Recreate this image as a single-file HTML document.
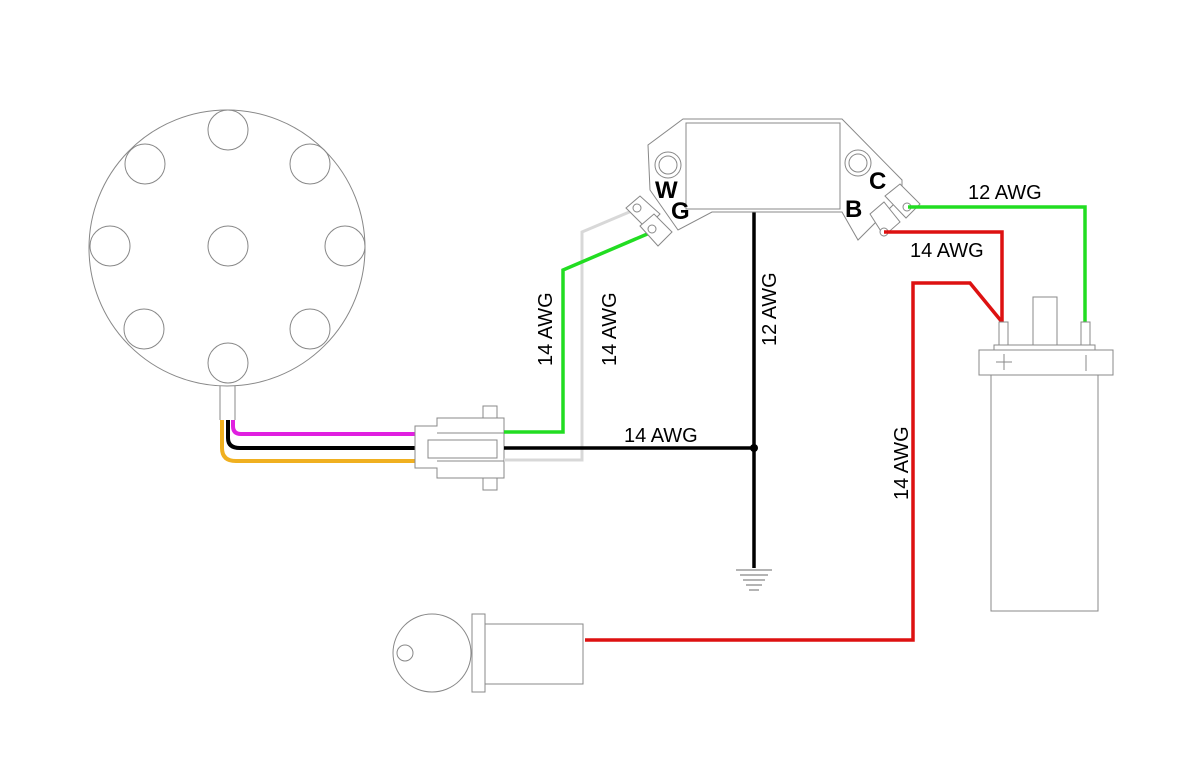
<!DOCTYPE html>
<html><head><meta charset="utf-8"><style>html,body{margin:0;padding:0;background:#fff;}svg{display:block}</style></head>
<body>
<svg width="1200" height="776" viewBox="0 0 1200 776" xmlns="http://www.w3.org/2000/svg" font-family="Liberation Sans, sans-serif">
<rect width="1200" height="776" fill="#fff"/>
<!-- distributor -->
<g fill="none" stroke="#888" stroke-width="1">
<circle cx="227" cy="248" r="138"/>
<circle cx="228" cy="130" r="20"/><circle cx="310" cy="164" r="20"/><circle cx="345" cy="246" r="20"/>
<circle cx="310" cy="329" r="20"/><circle cx="228" cy="363" r="20"/><circle cx="144" cy="329" r="20"/>
<circle cx="110" cy="246" r="20"/><circle cx="145" cy="164" r="20"/><circle cx="228" cy="246" r="20"/>
<path d="M220 386 V420 M235 386 V420"/>
</g>
<!-- harness wires -->
<g fill="none" stroke-width="4">
<path d="M233 420 V426 Q233 434 241 434 H416" stroke="#e020e0"/>
<path d="M228 420 V438 Q228 448 240 448 H416" stroke="#000"/>
<path d="M222 420 V448 Q222 461 236 461 H416" stroke="#f0b020"/>
</g>
<!-- connector -->
<g fill="#fff" stroke="#888" stroke-width="1">
<rect x="483" y="406" width="14" height="12"/><rect x="483" y="478" width="14" height="12"/>
<path d="M415 426 H437 V418 H504 V478 H437 V468 H415 Z"/>
<path d="M437 433 H504 M437 461 H504"/>
<rect x="428" y="440" width="69" height="18"/>
</g>
<!-- wires from connector -->
<g fill="none" stroke-width="3.5">
<path d="M504 460 H582 V232 L634 210" stroke="#d8d8d8" stroke-width="3"/>
<path d="M504 432 H563 V270 L652 232" stroke="#22dd22"/>
<path d="M504 448 H754" stroke="#000"/>
<path d="M668 165 H754 V568" stroke="#000"/>
</g>
<circle cx="754" cy="448" r="4" fill="#000"/>
<g stroke="#888" stroke-width="1.2"><path d="M736 570 H772 M740 575 H768 M743 580 H765 M746 585 H762 M749 590 H759"/></g>
<!-- module -->
<g fill="#fff" stroke="#888" stroke-width="1">
<path d="M683 119 H842 L902 180 V196 L858 240 L842 212 H712 L678 230 L650 190 L648 145 Z"/>
<rect x="686" y="123" width="154" height="86" fill="none"/>
<circle cx="668" cy="165" r="13"/><circle cx="668" cy="165" r="9"/>
<circle cx="858" cy="163" r="13"/><circle cx="858" cy="163" r="9"/>
<path d="M626 208 L640 196 L660 214 L646 228 Z"/>
<path d="M640 226 L654 214 L672 232 L658 246 Z"/>
<circle cx="637" cy="208" r="4"/><circle cx="652" cy="229" r="4"/>
<path d="M885 196 L900 184 L920 204 L906 218 Z"/>
<path d="M870 214 L884 202 L900 222 L884 236 Z"/>
<circle cx="907" cy="207" r="4"/><circle cx="884" cy="232" r="4"/>
</g>
<g font-weight="bold" font-size="24" fill="#000">
<text x="655" y="198">W</text><text x="671" y="219">G</text>
<text x="845" y="217">B</text><text x="869" y="189">C</text>
</g>
<!-- green & red to coil -->
<path d="M908 207 H1085 V325" fill="none" stroke="#22dd22" stroke-width="3.5"/>
<path d="M884 232 H1002 V325" fill="none" stroke="#dd1111" stroke-width="3.5"/>
<path d="M585 640 H913 V283 H970 L1002 322" fill="none" stroke="#dd1111" stroke-width="3.5"/>
<!-- coil -->
<g fill="#fff" stroke="#888" stroke-width="1">
<rect x="1033" y="297" width="24" height="48"/>
<rect x="999" y="322" width="9" height="24"/><rect x="1081" y="322" width="9" height="24"/>
<rect x="994" y="345" width="101" height="5"/>
<rect x="979" y="350" width="134" height="25"/>
<rect x="991" y="375" width="107" height="236"/>
<path d="M996 362 H1012 M1004 354 V370 M1086 355 V371"/>
</g>
<!-- key -->
<g fill="#fff" stroke="#888" stroke-width="1">
<circle cx="432" cy="653" r="39"/>
<circle cx="405" cy="653" r="8"/>
<rect x="472" y="614" width="13" height="78"/>
<rect x="485" y="624" width="98" height="60"/>
</g>
<!-- labels -->
<g font-size="20" fill="#000">
<text x="0" y="0" transform="translate(552,366) rotate(-90)">14 AWG</text>
<text x="0" y="0" transform="translate(616,366) rotate(-90)">14 AWG</text>
<text x="0" y="0" transform="translate(776,346) rotate(-90)">12 AWG</text>
<text x="0" y="0" transform="translate(908,500) rotate(-90)">14 AWG</text>
<text x="624" y="442">14 AWG</text>
<text x="968" y="199">12 AWG</text>
<text x="910" y="257">14 AWG</text>
</g>
</svg>
</body></html>
